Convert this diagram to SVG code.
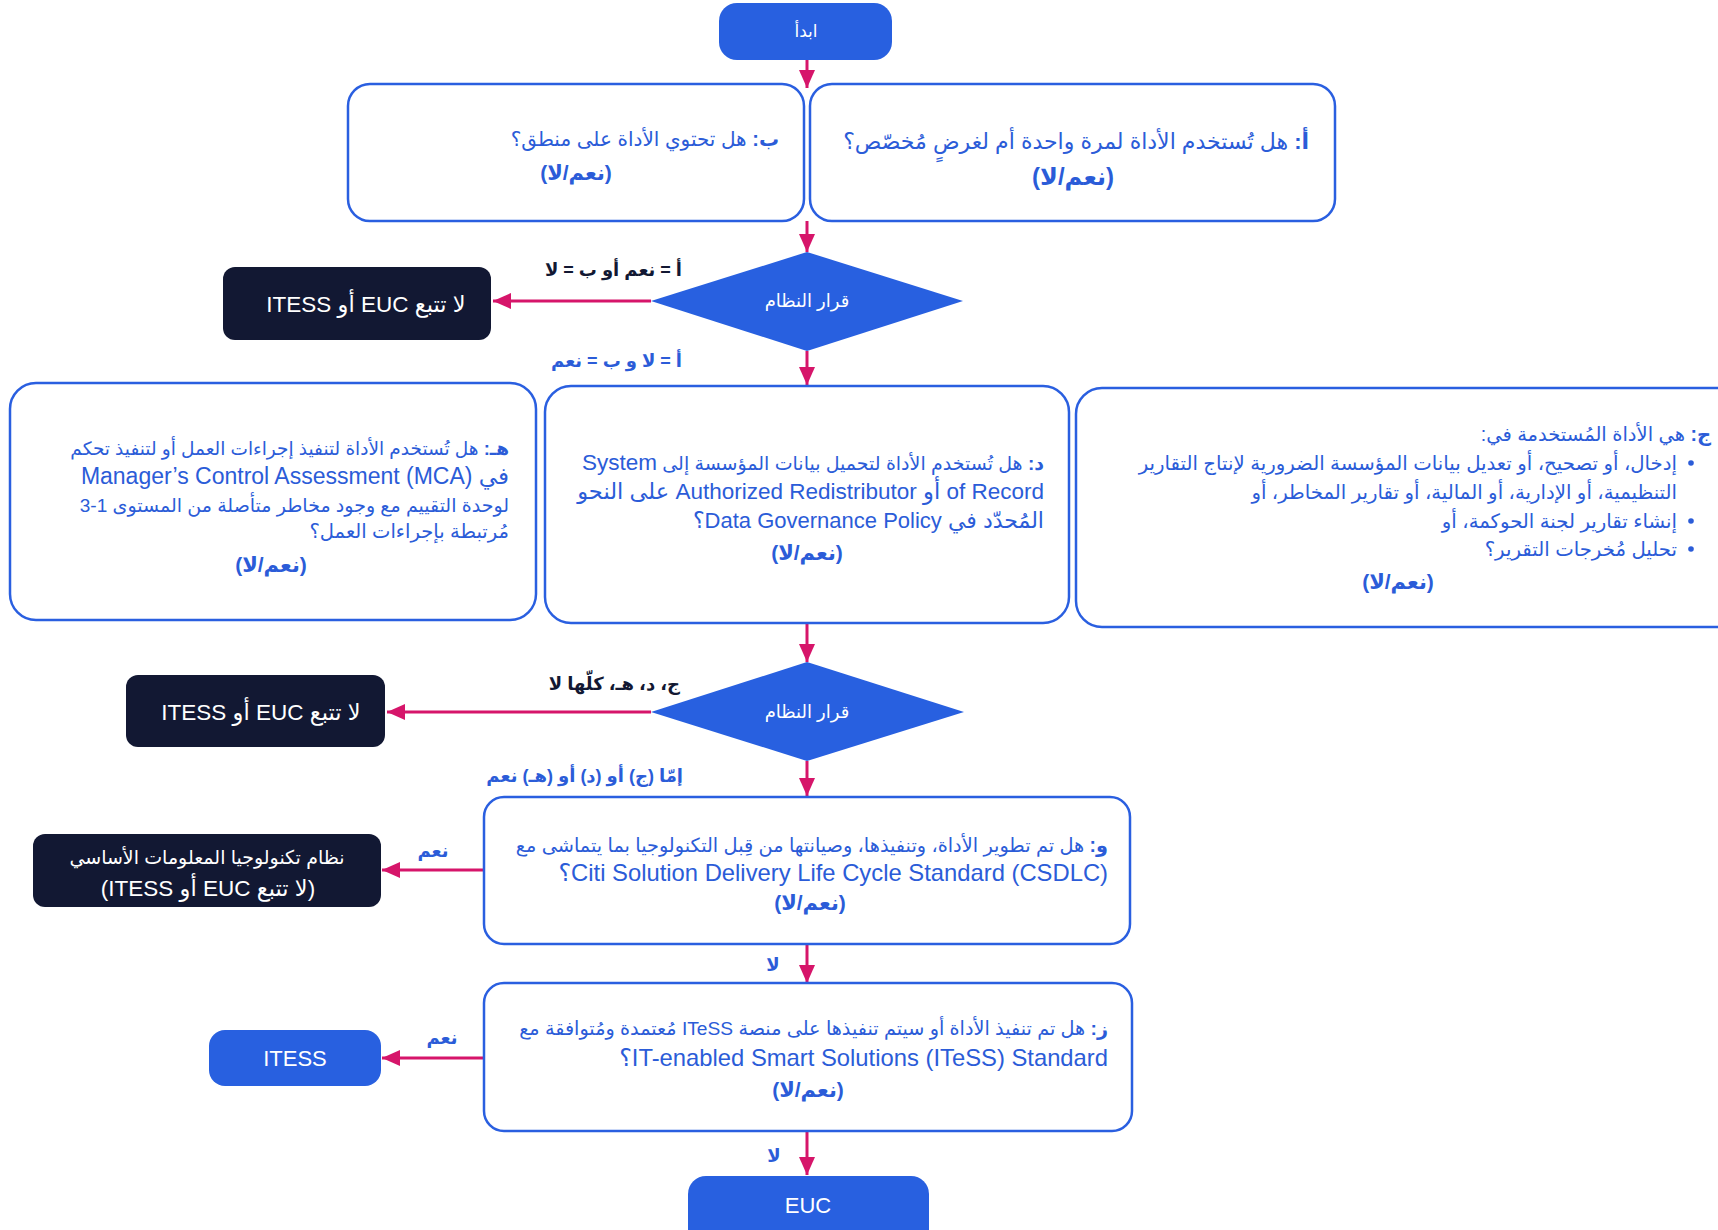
<svg xmlns="http://www.w3.org/2000/svg" width="1718" height="1230" viewBox="0 0 1718 1230">
<style>
text{font-family:"Liberation Sans","DejaVu Sans",sans-serif}
.q{fill:#fff;stroke:#2A5FE0;stroke-width:2.5}
.blue{fill:#2860E0}
.dark{fill:#121833}
.t{fill:#2B5CD8;direction:rtl;unicode-bidi:embed}
.w{fill:#fff}
.b{font-weight:bold}
.lbl{font-weight:bold;font-size:18px;direction:rtl;unicode-bidi:embed}
.ar{stroke:#D6156A;stroke-width:3;fill:none;marker-end:url(#ah)}
</style>
<defs>
<marker id="ah" markerUnits="userSpaceOnUse" markerWidth="20" markerHeight="20" viewBox="0 0 20 20" refX="18" refY="10" orient="auto">
<path d="M0,2 L18,10 L0,18 Z" fill="#D6156A"/>
</marker>
</defs>
<g id="connectors">
<line class="ar" x1="807" y1="60" x2="807" y2="88"/>
<line class="ar" x1="807" y1="221" x2="807" y2="252"/>
<line class="ar" x1="651" y1="301" x2="493" y2="301"/>
<line class="ar" x1="807" y1="351" x2="807" y2="385"/>
<line class="ar" x1="807" y1="624" x2="807" y2="662"/>
<line class="ar" x1="651" y1="712" x2="387" y2="712"/>
<line class="ar" x1="807" y1="761" x2="807" y2="796"/>
<line class="ar" x1="484" y1="870" x2="382" y2="870"/>
<line class="ar" x1="807" y1="944" x2="807" y2="983"/>
<line class="ar" x1="484" y1="1058" x2="382" y2="1058"/>
<line class="ar" x1="807" y1="1131" x2="807" y2="1175"/>
<text class="lbl" x="682" y="276" text-anchor="start" fill="#121833">أ = نعم أو ب = لا</text>
<text class="lbl" x="682" y="367" text-anchor="start" fill="#2B5CD8">أ = لا و ب = نعم</text>
<text class="lbl" x="680" y="690" text-anchor="start" fill="#121833">ج، د، هـ، كلّها لا</text>
<text class="lbl" x="683" y="782" font-size="18.5" text-anchor="start" fill="#2B5CD8">إمّا (ج) أو (د) أو (هـ) نعم</text>
<text class="lbl" x="433" y="857" text-anchor="middle" fill="#2B5CD8">نعم</text>
<text class="lbl" x="773" y="971" text-anchor="middle" fill="#2B5CD8">لا</text>
<text class="lbl" x="442" y="1044" text-anchor="middle" fill="#2B5CD8">نعم</text>
<text class="lbl" x="774" y="1162" text-anchor="middle" fill="#2B5CD8">لا</text>
</g>
<g id="start">
<rect class="blue" x="719" y="3" width="173" height="57" rx="18"/>
<text class="w" x="806" y="37" font-size="17" text-anchor="middle">ابدأ</text>
</g>
<g id="nodeB">
<rect class="q" x="348" y="84" width="456" height="137" rx="22"/>
<text class="t" x="779" y="146" font-size="20" text-anchor="start"><tspan class="b">ب:</tspan> هل تحتوي الأداة على منطق؟</text>
<text class="t b" x="576" y="180" font-size="21" text-anchor="middle">(نعم/لا)</text>
</g>
<g id="nodeA">
<rect class="q" x="810" y="84" width="525" height="137" rx="22"/>
<text class="t" x="1309" y="149" font-size="22" text-anchor="start"><tspan class="b">أ:</tspan> هل تُستخدم الأداة لمرة واحدة أم لغرضٍ مُخصّص؟</text>
<text class="t b" x="1073" y="185" font-size="24" text-anchor="middle">(نعم/لا)</text>
</g>
<g id="decision1">
<polygon class="blue" points="651,301 807,252 963,301 807,351"/>
<text class="w" x="807" y="307" font-size="18" text-anchor="middle">قرار النظام</text>
</g>
<g id="out1">
<rect class="dark" x="223" y="267" width="268" height="73" rx="12"/>
<text class="w" x="366" y="312" font-size="22.5" text-anchor="middle" direction="rtl">لا تتبع EUC أو ITESS</text>
</g>
<g id="nodeE">
<rect class="q" x="10" y="383" width="526" height="237" rx="26"/>
<text class="t" x="509" y="455" font-size="18.5" text-anchor="start"><tspan class="b">هـ:</tspan> هل تُستخدم الأداة لتنفيذ إجراءات العمل أو لتنفيذ تحكم</text>
<text class="t" x="509" y="484" font-size="23" text-anchor="start">في Manager’s Control Assessment (MCA)</text>
<text class="t" x="509" y="512" font-size="19" text-anchor="start">لوحدة التقييم مع وجود مخاطر متأصلة من المستوى 1-3</text>
<text class="t" x="509" y="538" font-size="19.5" text-anchor="start">مُرتبطة بإجراءات العمل؟</text>
<text class="t b" x="271" y="572" font-size="21" text-anchor="middle">(نعم/لا)</text>
</g>
<g id="nodeD">
<rect class="q" x="545" y="386" width="524" height="237" rx="26"/>
<text class="t" x="1044" y="470" font-size="19" text-anchor="start"><tspan class="b">د:</tspan> هل تُستخدم الأداة لتحميل بيانات المؤسسة إلى  <tspan font-size="22.5">System</tspan></text>
<text class="t" x="1044" y="499" font-size="22.5" text-anchor="start">of Record أو Authorized Redistributor على النحو</text>
<text class="t" x="1044" y="528" font-size="22" text-anchor="start">المُحدّد في Data Governance Policy؟</text>
<text class="t b" x="807" y="560" font-size="21" text-anchor="middle">(نعم/لا)</text>
</g>
<g id="nodeC">
<rect class="q" x="1076" y="388" width="680" height="239" rx="26"/>
<text class="t" x="1711" y="441" font-size="19.5" text-anchor="start"><tspan class="b">ج:</tspan> هي الأداة المُستخدمة في:</text>
<circle cx="1691" cy="463" r="2.8" fill="#2B5CD8"/>
<text class="t" x="1677" y="470" font-size="19.7" text-anchor="start">إدخال، أو تصحيح، أو تعديل بيانات المؤسسة الضرورية لإنتاج التقارير</text>
<text class="t" x="1677" y="499" font-size="19.7" text-anchor="start">التنظيمية، أو الإدارية، أو المالية، أو تقارير المخاطر، أو</text>
<circle cx="1691" cy="521" r="2.8" fill="#2B5CD8"/>
<text class="t" x="1677" y="528" font-size="19.7" text-anchor="start">إنشاء تقارير لجنة الحوكمة، أو</text>
<circle cx="1691" cy="549" r="2.8" fill="#2B5CD8"/>
<text class="t" x="1677" y="556" font-size="19.7" text-anchor="start">تحليل مُخرجات التقرير؟</text>
<text class="t b" x="1398" y="589" font-size="21" text-anchor="middle">(نعم/لا)</text>
</g>
<g id="decision2">
<polygon class="blue" points="651,712 807,662 964,712 807,761"/>
<text class="w" x="807" y="718" font-size="18" text-anchor="middle">قرار النظام</text>
</g>
<g id="out2">
<rect class="dark" x="126" y="675" width="259" height="72" rx="12"/>
<text class="w" x="261" y="720" font-size="22.5" text-anchor="middle" direction="rtl">لا تتبع EUC أو ITESS</text>
</g>
<g id="nodeF">
<rect class="q" x="484" y="797" width="646" height="147" rx="20"/>
<text class="t" x="1108" y="852" font-size="19.3" text-anchor="start"><tspan class="b">و:</tspan> هل تم تطوير الأداة، وتنفيذها، وصيانتها من قِبل التكنولوجيا بما يتماشى مع</text>
<text class="t" x="1108" y="881" font-size="23.8" text-anchor="start">Citi Solution Delivery Life Cycle Standard (CSDLC)؟</text>
<text class="t b" x="810" y="910" font-size="21" text-anchor="middle">(نعم/لا)</text>
</g>
<g id="out3">
<rect class="dark" x="33" y="834" width="348" height="73" rx="12"/>
<text class="w" x="207" y="864" font-size="19" text-anchor="middle" direction="rtl">نظام تكنولوجيا المعلومات الأساسي</text>
<text class="w" x="208" y="896" font-size="22.5" text-anchor="middle" direction="rtl">(لا تتبع EUC أو ITESS)</text>
</g>
<g id="nodeG">
<rect class="q" x="484" y="983" width="648" height="148" rx="20"/>
<text class="t" x="1108" y="1035" font-size="19.2" text-anchor="start"><tspan class="b">ز:</tspan> هل تم تنفيذ الأداة أو سيتم تنفيذها على منصة ITeSS مُعتمدة ومُتوافقة مع</text>
<text class="t" x="1108" y="1066" font-size="23.8" text-anchor="start">IT-enabled Smart Solutions (ITeSS) Standard؟</text>
<text class="t b" x="808" y="1097" font-size="21" text-anchor="middle">(نعم/لا)</text>
</g>
<g id="itess">
<rect class="blue" x="209" y="1030" width="172" height="56" rx="16"/>
<text class="w" x="295" y="1066" font-size="22" text-anchor="middle">ITESS</text>
</g>
<g id="euc">
<rect class="blue" x="688" y="1176" width="241" height="80" rx="18"/>
<text class="w" x="808" y="1213" font-size="22" text-anchor="middle">EUC</text>
</g>
</svg>
